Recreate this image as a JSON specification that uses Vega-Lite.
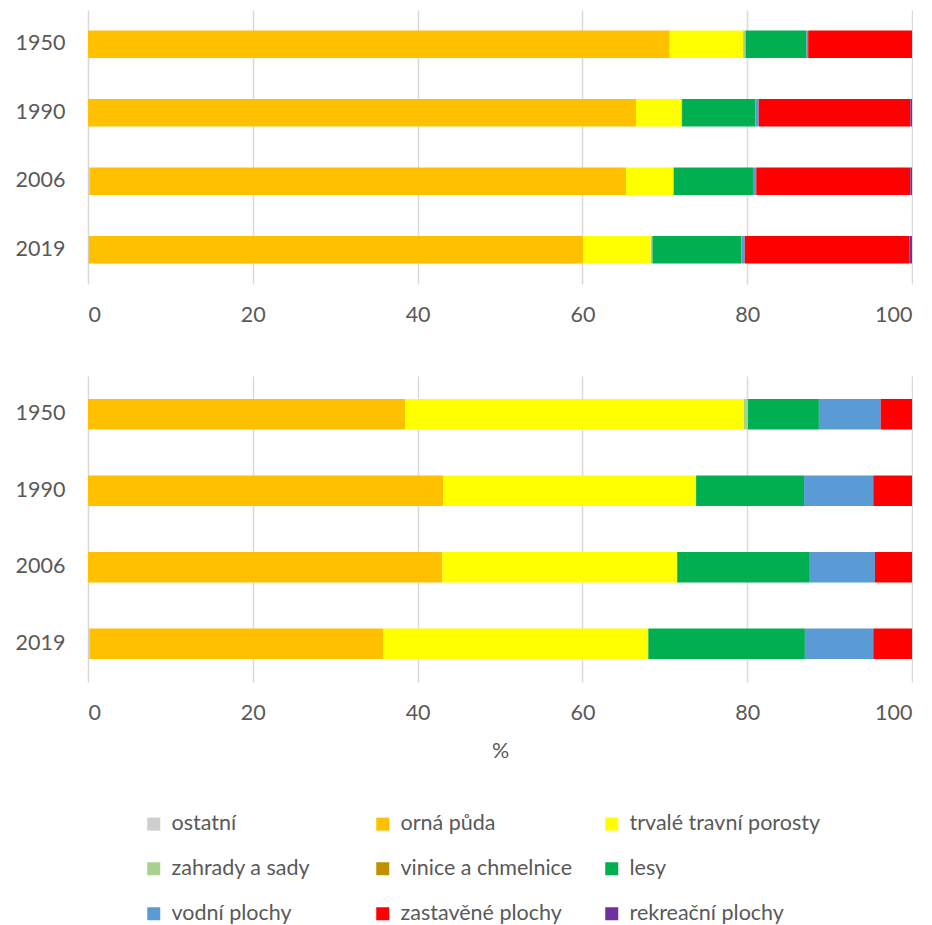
{
  "$schema": "https://vega.github.io/schema/vega-lite/v6.json",
  "padding": {"left": 15, "top": 10, "right": 0, "bottom": 0},
  "background": "white",
  "config": {
    "font": "Lato",
    "view": {"stroke": null},
    "axis": {"labelFont": "Lato", "labelFontSize": 21.5, "labelColor": "#595959", "titleFont": "Lato", "titleFontSize": 21.5, "titleColor": "#595959", "titleFontWeight": "normal", "domain": false, "ticks": false},
    "legend": {"labelFont": "Lato", "labelFontSize": 21.5, "labelColor": "#595959"}
  },
  "datasets": {
    "horni": [
      {"rok": "1950", "kategorie": "orná půda", "podil": 70.6},
      {"rok": "1950", "kategorie": "trvalé travní porosty", "podil": 8.9},
      {"rok": "1950", "kategorie": "zahrady a sady", "podil": 0.3},
      {"rok": "1950", "kategorie": "lesy", "podil": 7.4},
      {"rok": "1950", "kategorie": "vodní plochy", "podil": 0.2},
      {"rok": "1950", "kategorie": "zastavěné plochy", "podil": 12.6},
      {"rok": "1990", "kategorie": "orná půda", "podil": 66.5},
      {"rok": "1990", "kategorie": "trvalé travní porosty", "podil": 5.5},
      {"rok": "1990", "kategorie": "zahrady a sady", "podil": 0.1},
      {"rok": "1990", "kategorie": "lesy", "podil": 8.9},
      {"rok": "1990", "kategorie": "vodní plochy", "podil": 0.4},
      {"rok": "1990", "kategorie": "zastavěné plochy", "podil": 18.4},
      {"rok": "1990", "kategorie": "rekreační plochy", "podil": 0.2},
      {"rok": "2006", "kategorie": "ostatní", "podil": 0.2},
      {"rok": "2006", "kategorie": "orná půda", "podil": 65.1},
      {"rok": "2006", "kategorie": "trvalé travní porosty", "podil": 5.7},
      {"rok": "2006", "kategorie": "zahrady a sady", "podil": 0.1},
      {"rok": "2006", "kategorie": "lesy", "podil": 9.6},
      {"rok": "2006", "kategorie": "vodní plochy", "podil": 0.4},
      {"rok": "2006", "kategorie": "zastavěné plochy", "podil": 18.7},
      {"rok": "2006", "kategorie": "rekreační plochy", "podil": 0.2},
      {"rok": "2019", "kategorie": "ostatní", "podil": 0.1},
      {"rok": "2019", "kategorie": "orná půda", "podil": 60.0},
      {"rok": "2019", "kategorie": "trvalé travní porosty", "podil": 8.2},
      {"rok": "2019", "kategorie": "zahrady a sady", "podil": 0.2},
      {"rok": "2019", "kategorie": "lesy", "podil": 10.8},
      {"rok": "2019", "kategorie": "vodní plochy", "podil": 0.4},
      {"rok": "2019", "kategorie": "zastavěné plochy", "podil": 20.0},
      {"rok": "2019", "kategorie": "rekreační plochy", "podil": 0.3}
    ],
    "dolni": [
      {"rok": "1950", "kategorie": "orná půda", "podil": 38.5},
      {"rok": "1950", "kategorie": "trvalé travní porosty", "podil": 41.1},
      {"rok": "1950", "kategorie": "zahrady a sady", "podil": 0.5},
      {"rok": "1950", "kategorie": "lesy", "podil": 8.6},
      {"rok": "1950", "kategorie": "vodní plochy", "podil": 7.5},
      {"rok": "1950", "kategorie": "zastavěné plochy", "podil": 3.8},
      {"rok": "1990", "kategorie": "orná půda", "podil": 43.1},
      {"rok": "1990", "kategorie": "trvalé travní porosty", "podil": 30.7},
      {"rok": "1990", "kategorie": "lesy", "podil": 13.1},
      {"rok": "1990", "kategorie": "vodní plochy", "podil": 8.4},
      {"rok": "1990", "kategorie": "zastavěné plochy", "podil": 4.7},
      {"rok": "2006", "kategorie": "orná půda", "podil": 43.0},
      {"rok": "2006", "kategorie": "trvalé travní porosty", "podil": 28.5},
      {"rok": "2006", "kategorie": "lesy", "podil": 16.0},
      {"rok": "2006", "kategorie": "vodní plochy", "podil": 8.0},
      {"rok": "2006", "kategorie": "zastavěné plochy", "podil": 4.5},
      {"rok": "2019", "kategorie": "ostatní", "podil": 0.2},
      {"rok": "2019", "kategorie": "orná půda", "podil": 35.6},
      {"rok": "2019", "kategorie": "trvalé travní porosty", "podil": 32.2},
      {"rok": "2019", "kategorie": "lesy", "podil": 19.0},
      {"rok": "2019", "kategorie": "vodní plochy", "podil": 8.3},
      {"rok": "2019", "kategorie": "zastavěné plochy", "podil": 4.7}
    ]
  },
  "spacing": 50,
  "vconcat": [
    {
      "width": 824,
      "height": 274,
      "data": {"name": "horni"},
      "transform": [{"calculate": "indexof(['ostatní', 'orná půda', 'trvalé travní porosty', 'zahrady a sady', 'vinice a chmelnice', 'lesy', 'vodní plochy', 'zastavěné plochy', 'rekreační plochy'], datum.kategorie)", "as": "poradi"}],
      "mark": {"type": "bar"},
      "encoding": {
        "y": {"field": "rok", "type": "ordinal", "title": null,
              "scale": {"paddingInner": 0.6, "paddingOuter": 0.3},
              "axis": {"labelPadding": 23, "grid": false}},
        "x": {"field": "podil", "type": "quantitative", "stack": "zero", "title": null,
              "scale": {"domain": [0, 100], "nice": false},
              "axis": {"values": [0, 20, 40, 60, 80, 100], "grid": true, "gridColor": "#d9d9d9", "gridWidth": 1.5, "labelPadding": 20}},
        "order": {"field": "poradi", "type": "quantitative", "sort": "ascending"},
        "color": {"field": "kategorie", "type": "nominal",
                  "scale": {"domain": ["ostatní", "orná půda", "trvalé travní porosty", "zahrady a sady", "vinice a chmelnice", "lesy", "vodní plochy", "zastavěné plochy", "rekreační plochy"],
                            "range": ["#d0cece", "#ffc000", "#ffff00", "#a9d18e", "#bf9000", "#00b050", "#5b9bd5", "#ff0000", "#7030a0"]},
                  "legend": {"title": null, "orient": "none", "legendX": 55, "legendY": 803, "direction": "horizontal", "columns": 3, "gridAlign": "all", "columnPadding": 9, "rowPadding": 22, "symbolType": "square", "symbolSize": 169, "symbolStrokeWidth": 0, "labelOffset": 7, "padding": 0, "labelLimit": 300}}
      }
    },
    {
      "width": 824,
      "height": 306,
      "data": {"name": "dolni"},
      "transform": [{"calculate": "indexof(['ostatní', 'orná půda', 'trvalé travní porosty', 'zahrady a sady', 'vinice a chmelnice', 'lesy', 'vodní plochy', 'zastavěné plochy', 'rekreační plochy'], datum.kategorie)", "as": "poradi"}],
      "mark": {"type": "bar"},
      "encoding": {
        "y": {"field": "rok", "type": "ordinal", "title": null,
              "scale": {"paddingInner": 0.6, "paddingOuter": 0.3},
              "axis": {"labelPadding": 23, "grid": false}},
        "x": {"field": "podil", "type": "quantitative", "stack": "zero", "title": "%",
              "scale": {"domain": [0, 100], "nice": false},
              "axis": {"values": [0, 20, 40, 60, 80, 100], "grid": true, "gridColor": "#d9d9d9", "gridWidth": 1.5, "labelPadding": 20, "titlePadding": 17}},
        "order": {"field": "poradi", "type": "quantitative", "sort": "ascending"},
        "color": {"field": "kategorie", "type": "nominal"}
      }
    }
  ]
}
